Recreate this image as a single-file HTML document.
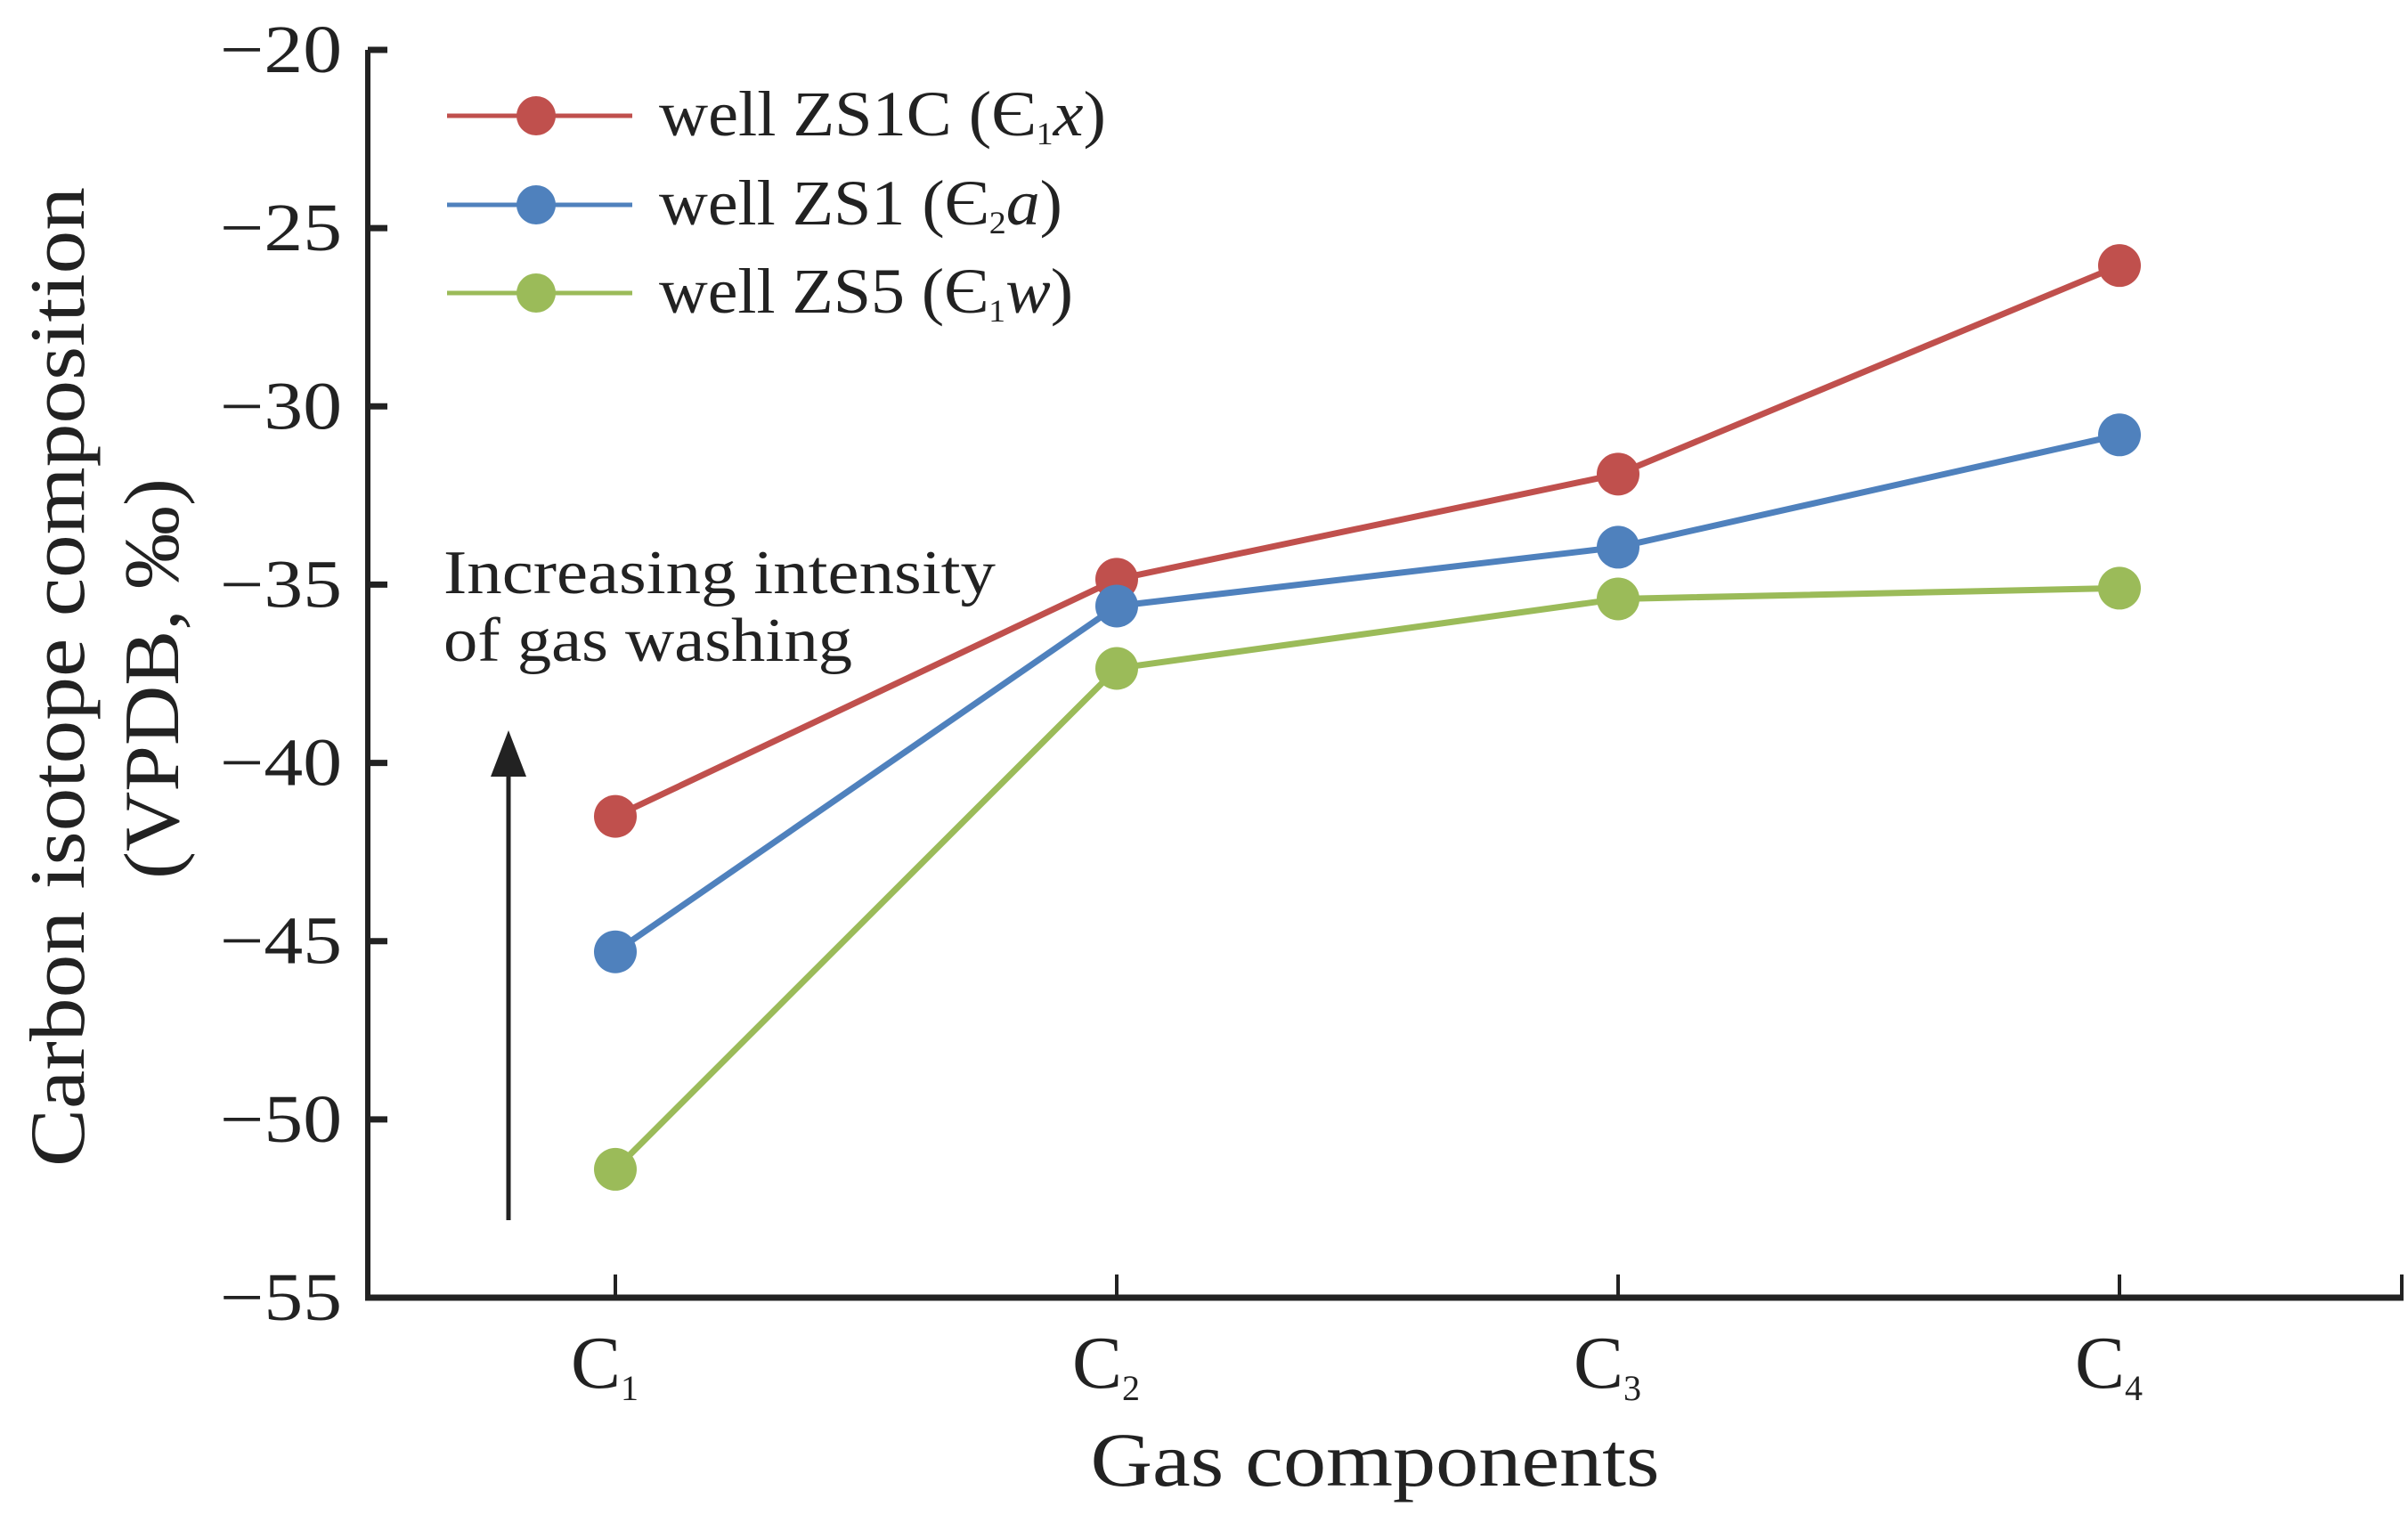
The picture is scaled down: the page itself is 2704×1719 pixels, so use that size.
<!DOCTYPE html>
<html><head><meta charset="utf-8"><style>
html,body{margin:0;padding:0;background:#fff;}
svg{display:block;}
text{font-family:"Liberation Serif",serif;fill:#222;}
</style></head><body>
<svg id="chart" width="2704" height="1719" viewBox="0 0 2704 1719">
<g id="axes"></g>
<g id="series"></g>
<g id="legend"></g>
<text x="66" y="760" dy="28" font-size="88" text-anchor="middle" textLength="1100" lengthAdjust="spacingAndGlyphs" transform="rotate(-90 66 760)">Carbon isotope composition</text>
<text x="172" y="762" dy="28" font-size="88" text-anchor="middle" textLength="450" lengthAdjust="spacingAndGlyphs" transform="rotate(-90 172 762)">(VPDB, ‰)</text>
<text x="1544" y="1668" font-size="86" text-anchor="middle" textLength="639" lengthAdjust="spacingAndGlyphs">Gas components</text>
<text x="498" y="666" font-size="70" textLength="620" lengthAdjust="spacingAndGlyphs">Increasing intensity</text>
<text x="498" y="742" font-size="70" textLength="459" lengthAdjust="spacingAndGlyphs">of gas washing</text>
<line x1="571" y1="1370" x2="571" y2="860" stroke="#222" stroke-width="5"/>
<polygon points="571,820 551,872 591,872" fill="#222"/>
</svg>
<script>
const categories = ["1","2","3","4"];
const yTicks = [-20,-25,-30,-35,-40,-45,-50,-55];
const seriesNames = ["ZS1C","ZS1","ZS5"];
const zs1cValues = [-41.5,-34.85,-31.9,-26.05];
const zs1Values = [-45.3,-35.6,-33.95,-30.8];
const zs5Values = [-51.4,-37.35,-35.4,-35.1];
const colors = ["#c0504d","#4f81bd","#9bbb59"];
const NS="http://www.w3.org/2000/svg";
const X0=413, XEND=2699, Y0=1457, YTOP=56;
function xPos(i){return 691 + i*563;}
function yPos(v){return Y0 - (v+55)/35*(Y0-YTOP);}
function mk(tag,attrs,parent){const e=document.createElementNS(NS,tag);for(const k in attrs)e.setAttribute(k,attrs[k]);parent.appendChild(e);return e;}
const axes=document.getElementById('axes');
let el=mk('line',{x1:X0,y1:YTOP,x2:X0,y2:Y0+3,stroke:'#222','stroke-width':6},axes);


el=mk('line',{x1:X0-3,y1:Y0,x2:XEND,y2:Y0,stroke:'#222','stroke-width':7},axes);


yTicks.forEach(v=>{
  const y=yPos(v);
  let t=mk('line',{x1:X0,y1:y,x2:X0+22,y2:y,stroke:'#222','stroke-width':7},axes);
  
  
  let l=mk('text',{x:247,y:y+25,'font-size':76,textLength:137,lengthAdjust:'spacingAndGlyphs'},axes);
  l.textContent='\u2212'+Math.abs(v);
  
  
});
categories.forEach((c,i)=>{
  const x=xPos(i);
  let t=mk('line',{x1:x,y1:Y0,x2:x,y2:Y0-26,stroke:'#222','stroke-width':4},axes);
  
  
  let l=mk('text',{x:x-12,y:1558,'font-size':84,'text-anchor':'middle'},axes);
  l.innerHTML='C<tspan font-size="40" dy="14">'+c+'</tspan>';
  
  
});
let et=mk('line',{x1:XEND-2,y1:Y0,x2:XEND-2,y2:Y0-26,stroke:'#222','stroke-width':4},axes);


const allSeries=[zs1cValues,zs1Values,zs5Values];
const sg=document.getElementById('series');
allSeries.forEach((vals,s)=>{
  const pts=vals.map((v,i)=>xPos(i)+','+yPos(v)).join(' ');
  let pl=mk('polyline',{points:pts,fill:'none',stroke:colors[s],'stroke-width':7},sg);
  
  
  vals.forEach((v,i)=>{
    let c=mk('circle',{cx:xPos(i),cy:yPos(v),r:24,fill:colors[s]},sg);
    
    
  });
});
const lg=document.getElementById('legend');
const labels=['well ZS1C (Є<tspan font-size="36" dy="10">1</tspan><tspan dy="-10" font-style="italic">x</tspan>)',
 'well ZS1 (Є<tspan font-size="36" dy="10">2</tspan><tspan dy="-10" font-style="italic">a</tspan>)',
 'well ZS5 (Є<tspan font-size="36" dy="10">1</tspan><tspan dy="-10" font-style="italic">w</tspan>)'];
const legendLens=[502,453,465];
[130,230,329].forEach((y,s)=>{
  let l=mk('line',{x1:502,y1:y,x2:710,y2:y,stroke:colors[s],'stroke-width':5},lg);
  
  
  let c=mk('circle',{cx:602,cy:y,r:22,fill:colors[s]},lg);
  
  
  let t=mk('text',{x:740,y:y+22,'font-size':72,textLength:legendLens[s],lengthAdjust:'spacingAndGlyphs'},lg);
  t.innerHTML=labels[s];
  
  
});
</script>
</body></html>
